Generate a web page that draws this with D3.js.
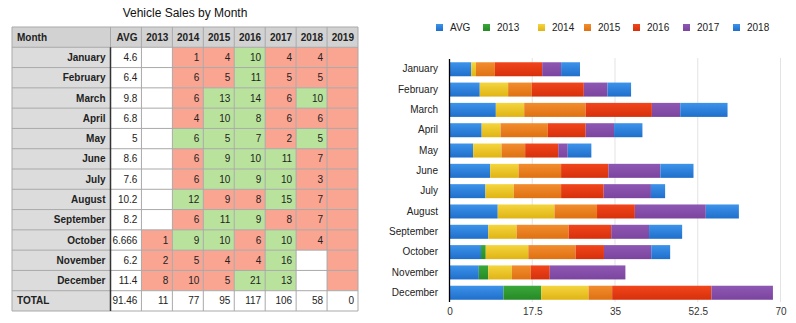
<!DOCTYPE html>
<html><head><meta charset="utf-8">
<script src="https://cdn.jsdelivr.net/npm/d3@7"></script>
<style>
html,body{margin:0;padding:0;background:#fff;}
svg{display:block;font-family:"Liberation Sans",Arial,Helvetica,sans-serif;}
</style></head>
<body>
<script>
const months = ["January","February","March","April","May","June","July","August","September","October","November","December"];
const avg   = [4.6, 6.4, 9.8, 6.8, 5, 8.6, 7.6, 10.2, 8.2, 6.666, 6.2, 11.4];
const y2013 = [null,null,null,null,null,null,null,null,null,1,2,8];
const y2014 = [1,6,6,4,6,6,6,12,6,9,5,10];
const y2015 = [4,5,13,10,5,9,10,9,11,10,4,5];
const y2016 = [10,11,14,8,7,10,9,8,9,6,4,21];
const y2017 = [4,5,6,6,2,11,10,15,8,10,16,13];
const y2018 = [4,5,10,6,5,7,3,7,7,4,null,null];
const y2019 = [null,null,null,null,null,null,null,null,null,null,null,null];
const totals = ["91.46","11","77","95","117","106","58","0"];
const tableCols = ["AVG","2013","2014","2015","2016","2017","2018","2019"];
const seriesNames = ["AVG","2013","2014","2015","2016","2017","2018"];
const xTicks = [0,17.5,35,52.5,70];
const title = "Vehicle Sales by Month";

const W = 796, H = 323;
const svg = d3.select("body").append("svg").attr("width", W).attr("height", H);

// ---------- TABLE ----------
const yearData = {"2013":y2013,"2014":y2014,"2015":y2015,"2016":y2016,"2017":y2017,"2018":y2018,"2019":y2019};
const tx = d3.scaleBand().domain(tableCols).range([110.5, 358]);
const rowKeys = ["header", ...months, "TOTAL"];
const ty = d3.scaleBand().domain(rowKeys).range([27, 311]);
const monthX0 = 12;
const RED = "#f9a592", GREEN = "#b9e39c", GRAY = "#dcdcdc", HEAD = "#d2d2d2", BORDER = "#a9a9a9";

svg.append("text").attr("x", 185).attr("y", 17).attr("text-anchor","middle")
  .attr("font-size", 12).attr("fill","#111").text(title);

const tbl = svg.append("g");
tbl.append("rect").attr("x", monthX0).attr("y", ty("header")).attr("width", 358-monthX0).attr("height", ty.bandwidth()).attr("fill", HEAD);
tbl.append("text").attr("x", monthX0+5).attr("y", ty("header")+ty.bandwidth()/2).attr("dy","0.35em")
  .attr("font-size",10).attr("font-weight","bold").attr("fill","#222").text("Month");
tableCols.forEach(c=>{
  tbl.append("text").attr("x", tx(c)+tx.bandwidth()-4).attr("y", ty("header")+ty.bandwidth()/2).attr("dy","0.35em")
    .attr("text-anchor","end").attr("font-size",10).attr("font-weight","bold").attr("fill","#222").text(c);
});
months.forEach((m,i)=>{
  const y0 = ty(m), h = ty.bandwidth();
  tbl.append("rect").attr("x", monthX0).attr("y", y0).attr("width", tx("AVG")-monthX0).attr("height", h).attr("fill", GRAY);
  tbl.append("text").attr("x", tx("AVG")-5).attr("y", y0+h/2).attr("dy","0.35em").attr("text-anchor","end")
    .attr("font-size",10).attr("font-weight","bold").attr("fill","#222").text(m);
  tableCols.forEach(c=>{
    let v, fill;
    if (c==="AVG"){ v = avg[i]; fill = "#fff"; }
    else {
      v = yearData[c][i];
      if (v===null) fill = (c==="2019") ? RED : "#fff";
      else fill = v >= avg[i] ? GREEN : RED;
    }
    tbl.append("rect").attr("x", tx(c)).attr("y", y0).attr("width", tx.bandwidth()).attr("height", h).attr("fill", fill);
    if (v!==null) tbl.append("text").attr("x", tx(c)+tx.bandwidth()-4).attr("y", y0+h/2).attr("dy","0.35em")
      .attr("text-anchor","end").attr("font-size",10).attr("fill","#222").text(v);
  });
});
{
  const y0 = ty("TOTAL"), h = ty.bandwidth();
  tbl.append("rect").attr("x", monthX0).attr("y", y0).attr("width", tx("AVG")-monthX0).attr("height", h).attr("fill", GRAY);
  tbl.append("text").attr("x", monthX0+5).attr("y", y0+h/2).attr("dy","0.35em")
    .attr("font-size",10).attr("font-weight","bold").attr("fill","#222").text("TOTAL");
  tableCols.forEach((c,j)=>{
    tbl.append("rect").attr("x", tx(c)).attr("y", y0).attr("width", tx.bandwidth()).attr("height", h).attr("fill", "#fff");
    tbl.append("text").attr("x", tx(c)+tx.bandwidth()-4).attr("y", y0+h/2).attr("dy","0.35em")
      .attr("text-anchor","end").attr("font-size",10).attr("fill","#222").text(totals[j]);
  });
}
rowKeys.forEach(k=>{
  tbl.append("line").attr("x1", monthX0).attr("x2", 358).attr("y1", ty(k)).attr("y2", ty(k)).attr("stroke", BORDER).attr("stroke-width",1);
});
tbl.append("line").attr("x1", monthX0).attr("x2", 358).attr("y1", 311).attr("y2", 311).attr("stroke", BORDER);
[monthX0, ...tableCols.map(c=>tx(c)), 358].forEach((x)=>{
  tbl.append("line").attr("x1", x).attr("x2", x).attr("y1", 27).attr("y2", 311).attr("stroke", BORDER).attr("stroke-width",1);
});
tbl.append("line").attr("x1", tx("AVG")).attr("x2", tx("AVG")).attr("y1", ty("January")).attr("y2", 311)
  .attr("stroke", "#333").attr("stroke-width", 1.5);

// ---------- BAR CHART ----------
const colors = {
  "AVG":  ["#3d93ea","#1f6fcb"],
  "2013": ["#3aa83a","#268a26"],
  "2014": ["#f4d53e","#e0b414"],
  "2015": ["#f28d2e","#df7112"],
  "2016": ["#f2461c","#d6300b"],
  "2017": ["#8d58b3","#7b449f"],
  "2018": ["#3d93ea","#1f6fcb"]
};
const defs = svg.append("defs");
seriesNames.forEach((s,i)=>{
  const g = defs.append("linearGradient").attr("id","g"+i).attr("x1",0).attr("x2",0).attr("y1",0).attr("y2",1);
  g.append("stop").attr("offset","0%").attr("stop-color", colors[s][0]);
  g.append("stop").attr("offset","100%").attr("stop-color", colors[s][1]);
});

const x = d3.scaleLinear().domain([0,70]).range([449.5, 780.5]);
const y = d3.scaleBand().domain(months).range([59, 303]).paddingInner(0.31).paddingOuter(0.16);

const rows = months.map((m,i)=>({month:m, "AVG":avg[i], "2013":y2013[i]||0, "2014":y2014[i]||0, "2015":y2015[i]||0,
  "2016":y2016[i]||0, "2017":y2017[i]||0, "2018":y2018[i]||0}));
const stack = d3.stack().keys(seriesNames)(rows);

svg.append("g").selectAll("line").data(xTicks.slice(1)).join("line")
  .attr("x1", d=>x(d)).attr("x2", d=>x(d)).attr("y1", 58).attr("y2", 302)
  .attr("stroke","#e3e3e3").attr("stroke-width",1);

svg.append("g").selectAll("g").data(stack).join("g")
  .attr("fill", (d,i)=>`url(#g${i})`)
  .selectAll("rect").data(d=>d.filter(p=>p[1]-p[0]>0)).join("rect")
  .attr("x", d=>x(d[0])).attr("width", d=>x(d[1])-x(d[0]))
  .attr("y", d=>y(d.data.month)).attr("height", y.bandwidth());

svg.append("line").attr("x1", 449.5).attr("x2", 449.5).attr("y1", 59).attr("y2", 302)
  .attr("stroke","#000").attr("stroke-width",1.3);
const yAxis = svg.append("g").attr("transform","translate(449,0)")
  .call(d3.axisLeft(y).tickSize(0).tickPadding(11));
yAxis.select(".domain").remove();
yAxis.selectAll("text").attr("font-size",10).attr("fill","#222").attr("font-family","Liberation Sans, Arial, sans-serif");

const xAxis = svg.append("g").attr("transform","translate(0,306)")
  .call(d3.axisBottom(x).tickValues(xTicks).tickSize(0).tickPadding(2).tickFormat(d=>d));
xAxis.select(".domain").remove();
xAxis.selectAll("text").attr("font-size",10).attr("fill","#333").attr("font-family","Liberation Sans, Arial, sans-serif");

const legX = [436, 483, 538, 584, 633, 683, 733];
const leg = svg.append("g");
seriesNames.forEach((s,i)=>{
  leg.append("rect").attr("x", legX[i]).attr("y", 24).attr("width", 7).attr("height", 7).attr("fill", `url(#g${i})`);
  leg.append("text").attr("x", legX[i]+14).attr("y", 27.5).attr("dy","0.35em").attr("font-size",10).attr("fill","#222").text(s);
});
</script>
</body></html>
